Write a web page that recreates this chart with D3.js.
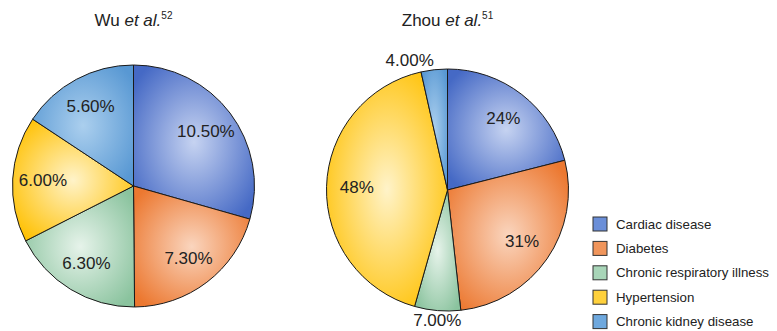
<!DOCTYPE html>
<html>
<head>
<meta charset="utf-8">
<script src="https://cdn.jsdelivr.net/npm/d3@7"></script>
<style>
  body { margin: 0; background: #fff; }
  text { font-family: "Liberation Sans", Arial, sans-serif; fill: #222; }
</style>
</head>
<body>
<div id="chart"></div>
<script>
const categories = ["Cardiac disease", "Diabetes", "Chronic respiratory illness", "Hypertension", "Chronic kidney disease"]
const wuValues = [10.5, 7.3, 6.3, 6.0, 5.6]
const wuLabels = ["10.50%", "7.30%", "6.30%", "6.00%", "5.60%"]
const zhouValues = [24, 31, 7, 48, 4]
const zhouLabels = ["24%", "31%", "7.00%", "48%", "4.00%"]

// light centre / dark edge per category
const lightColors = ["#c6d3f1", "#fad5be", "#e6f3ea", "#fff3c9", "#abcfee"]
const darkColors = ["#4569c5", "#ec7830", "#8ac39e", "#ffc000", "#5898d3"]
const swatchColors = ["#6a8ed8", "#f0955b", "#a8d5b8", "#ffd13c", "#6ea8de"]

const width = 777
const height = 331
const radius = 121

const svg = d3.select("#chart")
    .append("svg")
    .attr("width", width)
    .attr("height", height)

const defs = svg.append("defs")
categories.forEach(function(c, i) {
    const g = defs.append("radialGradient")
        .attr("id", "grad" + i)
        .attr("cx", "50%").attr("cy", "50%").attr("r", "62%")
    g.append("stop").attr("offset", "0%").attr("stop-color", lightColors[i])
    g.append("stop").attr("offset", "100%").attr("stop-color", darkColors[i])
})

function drawPie(cx, cy, values, labels, name, ref) {
    const total = d3.sum(values)
    const pie = d3.pie().sort(null).value(d => d)
    const arcs = pie(values)
    const arc = d3.arc().innerRadius(0).outerRadius(radius)
    const labelArc = d3.arc().innerRadius(radius * 0.75).outerRadius(radius * 0.75)

    const g = svg.append("g").attr("transform", "translate(" + cx + "," + cy + ")")

    g.selectAll("path")
        .data(arcs)
        .enter()
        .append("path")
        .attr("d", arc)
        .attr("fill", (d, i) => "url(#grad" + i + ")")
        .attr("stroke", "#1a1a1a")
        .attr("stroke-width", 1)

    g.selectAll("text.lab")
        .data(arcs)
        .enter()
        .append("text")
        .attr("class", "lab")
        .style("font-size", "17px")
        .each(function(d, i) {
            const t = d3.select(this).text(labels[i])
            const mid = (d.startAngle + d.endAngle) / 2
            if (d.value / total >= 0.1) {
                const p = labelArc.centroid(d)
                t.attr("x", p[0]).attr("y", p[1])
                    .attr("text-anchor", "middle")
                    .attr("dominant-baseline", "central")
            } else {
                // small slices get their label outside the pie
                const top = Math.cos(mid) > 0
                const rr = top ? radius + 4 : radius + 3
                const x = rr * Math.sin(mid)
                const y = -rr * Math.cos(mid)
                t.attr("x", x).attr("y", y)
                    .attr("text-anchor", top ? (mid > Math.PI ? "end" : "start") : "middle")
                    .attr("dominant-baseline", top ? "auto" : "hanging")
            }
        })

    const title = svg.append("text")
        .attr("x", cx)
        .attr("y", 26)
        .attr("text-anchor", "middle")
        .style("font-size", "17px")
    title.append("tspan").text(name + " ")
    title.append("tspan").style("font-style", "italic").text("et al.")
    title.append("tspan").attr("dy", -7).style("font-size", "10px").text(ref)
}

drawPie(133.5, 186, wuValues, wuLabels, "Wu", "52")
drawPie(447.5, 190, zhouValues, zhouLabels, "Zhou", "51")

// legend
const legend = svg.append("g").attr("transform", "translate(593,217)")
const rows = legend.selectAll("g")
    .data(categories)
    .enter()
    .append("g")
    .attr("transform", (d, i) => "translate(0," + i * 24.4 + ")")
rows.append("rect")
    .attr("width", 14)
    .attr("height", 14)
    .attr("fill", (d, i) => swatchColors[i])
    .attr("stroke", "#333")
    .attr("stroke-width", 1)
rows.append("text")
    .attr("x", 23)
    .attr("y", 7)
    .attr("dominant-baseline", "central")
    .style("font-size", "13.3px")
    .text(d => d)
</script>
</body>
</html>
